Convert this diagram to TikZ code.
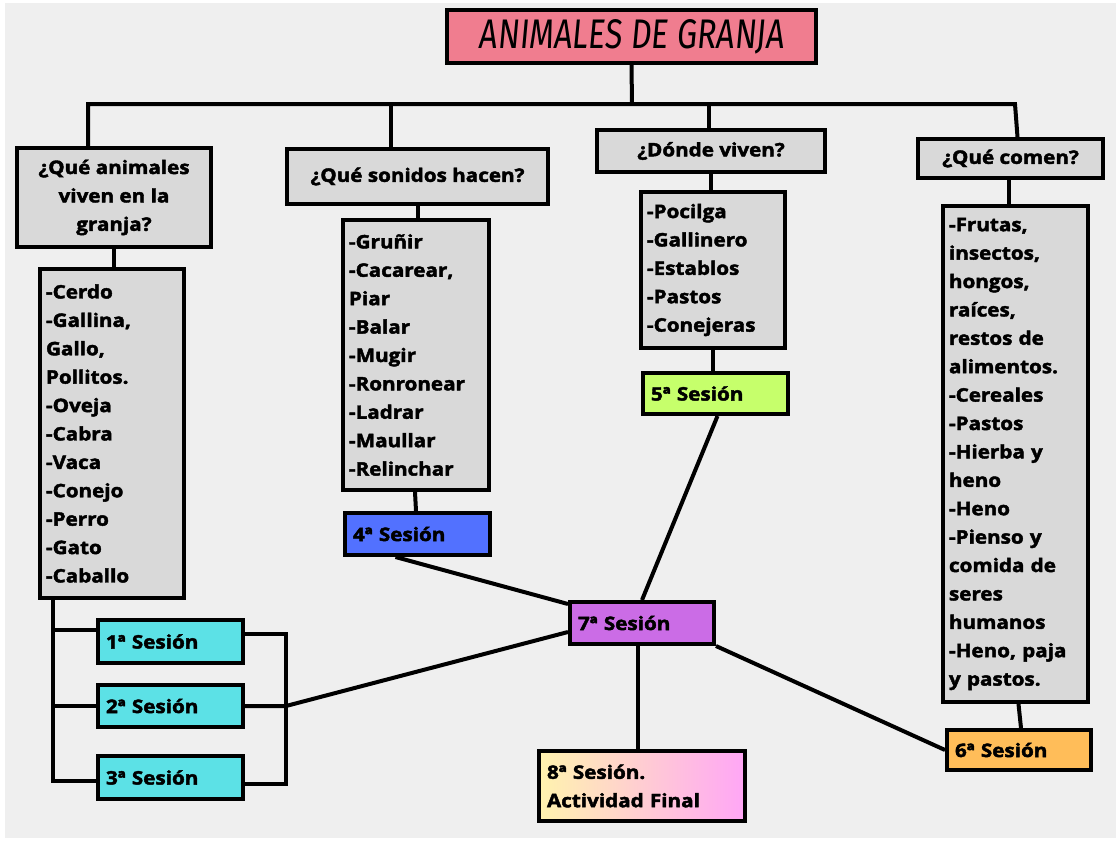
\documentclass[tikz,border=0pt]{standalone}
\usepackage{fontspec}
\setmainfont{Open Sans}[BoldFeatures={FakeBold=2.3, FakeStretch=1.11}]
\newfontfamily\titlefont{Fira Sans}[FakeSlant=0.12]
\usetikzlibrary{calc}
\definecolor{paper}{HTML}{EFEFEF}
\definecolor{boxgray}{HTML}{D9D9D9}
\definecolor{titlepink}{HTML}{F07D8F}
\definecolor{scyan}{HTML}{5CE1E6}
\definecolor{sblue}{HTML}{5271FF}
\definecolor{sgreen}{HTML}{C6FF6B}
\definecolor{sorange}{HTML}{FFBD59}
\definecolor{spurple}{HTML}{CB6CE6}
\definecolor{syellow}{HTML}{FFF3AE}
\definecolor{spink}{HTML}{FFA6F6}
\begin{document}
\begin{tikzpicture}[x=1pt,y=-1pt,
  bx/.style={draw=black, line width=4pt, fill=boxgray, inner sep=0pt, font=\bfseries\fontsize{18.6}{28.4}\selectfont},
  qbox/.style={bx, align=center},
  lbox/.style={bx, align=left},
  sbox/.style={bx, align=left},
  link/.style={draw=black, line width=4pt}]
\useasboundingbox (0,0) rectangle (1120,841);
\fill[white] (0,0) rectangle (1120,841);
\fill[paper] (5,3) rectangle (1116,838);

% title
\node[draw=black, line width=4pt, fill=titlepink, minimum width=369pt, minimum height=53pt, inner sep=0pt]
  (title) at (631.5,36.5) {\resizebox{305pt}{29pt}{\titlefont ANIMALES DE GRANJA}};

% questions
\node[qbox, minimum width=194pt, minimum height=99pt] (Q1) at (114,197.5) {¿Qué animales\\viven en la\\granja?};
\node[qbox, minimum width=261pt, minimum height=55pt] (Q2) at (417.5,176.5) {¿Qué sonidos hacen?};
\node[qbox, minimum width=228pt, minimum height=42pt] (Q3) at (711,151) {¿Dónde viven?};
\node[qbox, minimum width=185pt, minimum height=39pt] (Q4) at (1010.5,158.5) {¿Qué comen?};

% lists
\node[lbox, minimum width=144pt, minimum height=329pt, text width=132pt] (L1) at (112,433.5)
  {-Cerdo\\-Gallina,\\Gallo,\\Pollitos.\\-Oveja\\-Cabra\\-Vaca\\-Conejo\\-Perro\\-Gato\\-Caballo};
\node[lbox, minimum width=146pt, minimum height=270pt, text width=134pt] (L2) at (416,355)
  {-Gruñir\\-Cacarear,\\Piar\\-Balar\\-Mugir\\-Ronronear\\-Ladrar\\-Maullar\\-Relinchar};
\node[lbox, minimum width=144pt, minimum height=156pt, text width=132pt] (L3) at (713,270)
  {-Pocilga\\-Gallinero\\-Establos\\-Pastos\\-Conejeras};
\node[lbox, minimum width=145pt, minimum height=496pt, text width=133pt] (L4) at (1015.5,454)
  {-Frutas,\\insectos,\\hongos,\\raíces,\\restos de\\alimentos.\\-Cereales\\-Pastos\\-Hierba y\\heno\\-Heno\\-Pienso y\\comida de\\seres\\humanos\\-Heno, paja\\y pastos.};

% sessions
\node[sbox, fill=scyan, minimum width=145pt, minimum height=43pt, text width=129pt] (S1) at (170.5,641.5) {1ª Sesión};
\node[sbox, fill=scyan, minimum width=145pt, minimum height=42pt, text width=129pt] (S2) at (170.5,706) {2ª Sesión};
\node[sbox, fill=scyan, minimum width=145pt, minimum height=43pt, text width=129pt] (S3) at (170.5,777.5) {3ª Sesión};
\node[sbox, fill=sblue, minimum width=145pt, minimum height=42pt, text width=129pt] (S4) at (417.5,534) {4ª Sesión};
\node[sbox, fill=sgreen, minimum width=145pt, minimum height=41pt, text width=129pt] (S5) at (715.5,393.5) {5ª Sesión};
\node[sbox, fill=sorange, minimum width=144pt, minimum height=40pt, text width=128pt] (S6) at (1019,750) {6ª Sesión};
\node[sbox, fill=spurple, minimum width=144pt, minimum height=42pt, text width=128pt] (S7) at (642,623) {7ª Sesión};
\node[sbox, left color=syellow, right color=spink, minimum width=206pt, minimum height=70pt, text width=190pt] (S8) at (642,786) {8ª Sesión.\\Actividad Final};

% top tree
\coordinate (hub) at (632,104);
\coordinate (hL) at (88,104);
\coordinate (hR) at (1015,104);
\coordinate (d2) at (391,104);
\coordinate (d3) at (709,104);
\path[link] (title.south) -- (hub);
\path[link] (hL |- Q1.north) -- (hL) -- (hR) -- ($(Q4.north)+(7,0)$);
\path[link] (d2) -- (d2 |- Q2.north);
\path[link] (d3) -- (d3 |- Q3.north);

% question -> list -> session
\path[link] (Q1.south) -- (Q1.south |- L1.north);
\path[link] (Q2.south) -- (Q2.south |- L2.north);
\path[link] ($(L2.south)+(-1,0)$) -- ($(L2.south |- S4.north)+(0,0)$);
\path[link] (Q3.south) -- (Q3.south |- L3.north);
\path[link] (L3.south) -- (L3.south |- S5.north);
\path[link] ($(Q4.south)+(-1.5,0)$) -- ($(Q4.south |- L4.north)+(-1.5,0)$);
\path[link] ($(L4.south)+(3,0)$) -- ($(S6.north)+(2,0)$);

% left bracket
\coordinate (lb) at ($(L1.south west)+(15,0)$);
\path[link] (lb) -- (lb |- 0,781) -- ($(S3.west)+(0,3.5)$);
\path[link] (lb |- 0,629.5) -- ($(S1.west)+(0,-12)$);
\path[link] (lb |- S2.west) -- (S2.west);

% right bracket
\coordinate (rb) at (286,706);
\path[link] ($(S1.east)+(0,-8)$) -- (rb |- 0,633.5) -- (rb |- 0,784) -- ($(S3.east)+(0,6.5)$);
\path[link] (S2.east) -- (rb) -- ($(S7.west)+(0,9)$);

% session links
\path[link] ($(S4.south)+(-22,0)$) -- ($(S7.north west)+(0,4)$);
\path[link] ($(S5.south)+(2,0)$) -- (S7.north);
\path[link] (S7.south east) -- (S6.west);
\path[link] ($(S7.south)+(-4,0)$) -- ($(S8.north)+(-4,0)$);
\end{tikzpicture}
\end{document}
